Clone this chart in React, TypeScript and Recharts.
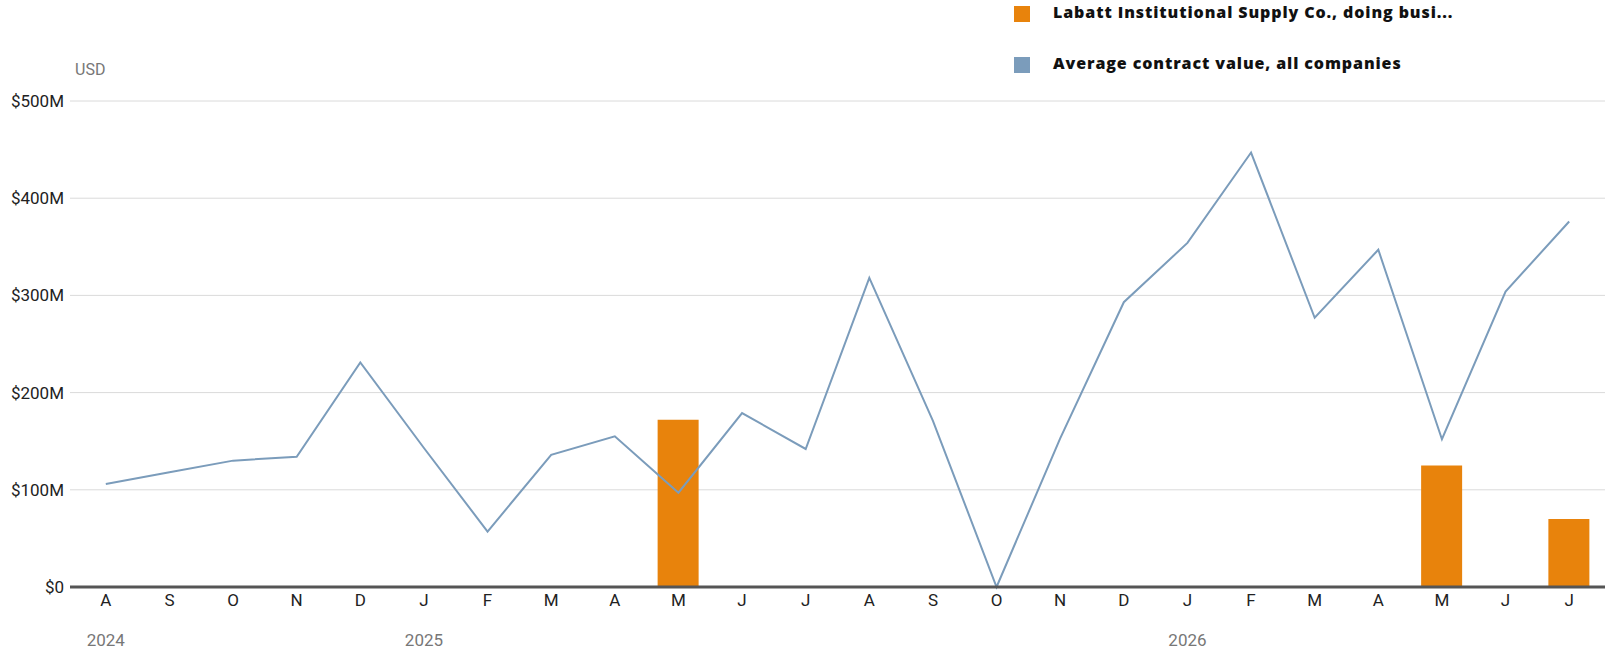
import {
  Bar,
  CartesianGrid,
  ComposedChart,
  Line,
  XAxis,
  YAxis,
} from "recharts";

const monthKeys = [
  "2024-08", "2024-09", "2024-10", "2024-11", "2024-12",
  "2025-01", "2025-02", "2025-03", "2025-04", "2025-05", "2025-06",
  "2025-07", "2025-08", "2025-09", "2025-10", "2025-11", "2025-12",
  "2026-01", "2026-02", "2026-03", "2026-04", "2026-05", "2026-06", "2026-07",
];

const monthLetters = [
  "A", "S", "O", "N", "D",
  "J", "F", "M", "A", "M", "J",
  "J", "A", "S", "O", "N", "D",
  "J", "F", "M", "A", "M", "J", "J",
];

const yearLabels: Record<string, string> = {
  "2024-08": "2024",
  "2025-01": "2025",
  "2026-01": "2026",
};

// USD millions
const avgContract = [
  106, 118, 130, 134, 231,
  143, 57, 136, 155, 97, 179,
  142, 318, 171, 0, 153, 293,
  354, 447, 277, 347, 152, 304, 376,
];

const labattValues: (number | null)[] = [
  null, null, null, null, null,
  null, null, null, null, 172, null,
  null, null, null, null, null, null,
  null, null, null, null, 125, null, 70,
];

const yTicks = [0, 100, 200, 300, 400, 500];

const LABATT_COLOR = "#e8830c";
const AVG_COLOR = "#7b9cbb";
const FONT = "Roboto, 'Noto Sans', sans-serif";

const data = monthKeys.map((key, i) => ({
  key,
  letter: monthLetters[i],
  avg: avgContract[i],
  labatt: labattValues[i],
}));

const legendItems = [
  { label: "Labatt Institutional Supply Co., doing busi...", color: LABATT_COLOR },
  { label: "Average contract value, all companies", color: AVG_COLOR },
];

function YTick({ y, payload }: any) {
  return (
    <text x={64} y={y} dy="0.35em" textAnchor="end" fontSize={17} fill="#222" fontFamily={FONT}>
      {`$${payload.value === 0 ? "0" : payload.value + "M"}`}
    </text>
  );
}

function XTick({ x, index }: any) {
  const year = yearLabels[monthKeys[index]];
  return (
    <g>
      <text x={x} y={600} dy="0.35em" textAnchor="middle" fontSize={17} fill="#222" fontFamily={FONT}>
        {monthLetters[index]}
      </text>
      {year && (
        <text x={x} y={640} dy="0.35em" textAnchor="middle" fontSize={17} fill="#777" fontFamily={FONT}>
          {year}
        </text>
      )}
    </g>
  );
}

function LegendBox() {
  return (
    <div style={{ position: "absolute", left: 1014, top: 0, width: 590, height: 80 }}>
      {legendItems.map((item, i) => (
        <div
          key={item.label}
          style={{
            position: "absolute",
            left: 0,
            top: 6 + i * 51,
            display: "flex",
            alignItems: "center",
            height: 16,
          }}
        >
          <span style={{ width: 16, height: 16, background: item.color, display: "inline-block" }} />
          <span
            style={{
              marginLeft: 23,
              fontFamily: "'Open Sans', Roboto, sans-serif",
              fontWeight: 800,
              fontSize: 16,
              letterSpacing: 0.9,
              color: "#111",
              whiteSpace: "nowrap",
              position: "relative",
              top: -2,
            }}
          >
            {item.label}
          </span>
        </div>
      ))}
    </div>
  );
}

export default function App() {
  return (
    <div style={{ position: "absolute", left: 0, top: 0, width: 1610, height: 656 }}>
      <div
        style={{
          position: "absolute",
          left: 75,
          top: 60,
          fontFamily: FONT,
          fontSize: 16,
          color: "#777",
          lineHeight: "20px",
        }}
      >
        USD
      </div>
      <LegendBox />
      <ComposedChart
        width={1610}
        height={656}
        data={data}
        margin={{ top: 101, right: 5, bottom: 0, left: 0 }}
        barSize={41}
      >
        <CartesianGrid vertical={false} stroke="#dadada" strokeWidth={1} />
        <XAxis
          dataKey="key"
          height={69}
          padding={{ left: 4, right: 4 }}
          tickLine={false}
          axisLine={{ stroke: "#555", strokeWidth: 3 }}
          interval={0}
          tick={<XTick />}
        />
        <YAxis
          width={70}
          domain={[0, 500]}
          ticks={yTicks}
          axisLine={false}
          tickLine={false}
          tick={<YTick />}
        />
        <Bar dataKey="labatt" fill={LABATT_COLOR} isAnimationActive={false} />
        <Line
          type="linear"
          dataKey="avg"
          stroke={AVG_COLOR}
          strokeWidth={2}
          dot={false}
          activeDot={false}
          isAnimationActive={false}
        />
      </ComposedChart>
    </div>
  );
}
